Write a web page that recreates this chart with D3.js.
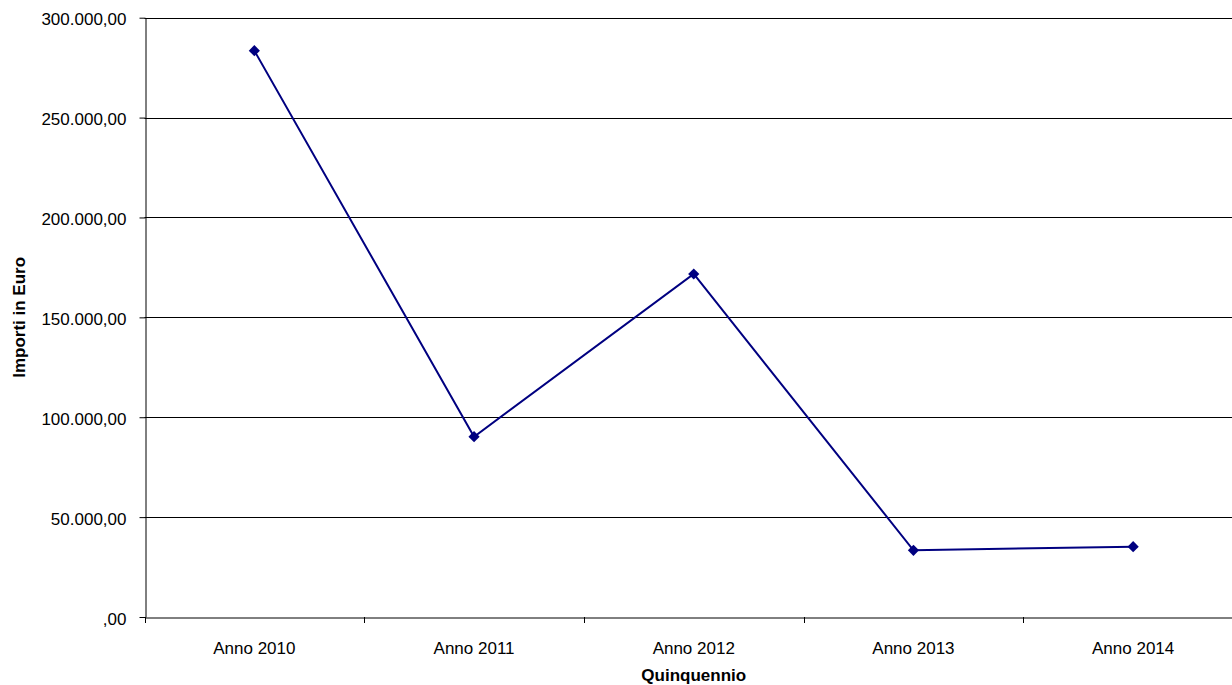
<!DOCTYPE html>
<html><head><meta charset="utf-8">
<script src="https://cdn.jsdelivr.net/npm/d3@7"></script>
<style>body{margin:0;background:#fff;}svg{display:block;font-family:"Liberation Sans",Arial,sans-serif;}</style>
</head><body>
<svg id="c" width="1232" height="685"></svg>
<script>
const categories = ["Anno 2010","Anno 2011","Anno 2012","Anno 2013","Anno 2014"];
const values = [283500, 90250, 171700, 33400, 35200];
const yTicks = [0, 50000, 100000, 150000, 200000, 250000, 300000];

const svg = d3.select("#c");
const L = 144.5, R = 1243, T = 17.7, B = 617;
const FS = 17;
const x = d3.scaleBand().domain(categories).range([L, R]);
const y = d3.scaleLinear().domain([0, 300000]).range([B, T]);

const itFmt = d3.formatLocale({decimal:",", thousands:".", grouping:[3], currency:["€",""]});
const f = itFmt.format(",.2f");
const fmt = v => v === 0 ? ",00" : f(v);

// gridlines
svg.append("g").selectAll("line").data(yTicks.filter(d=>d>0)).join("line")
  .attr("x1", L).attr("x2", R)
  .attr("y1", d=>Math.round(y(d))+0.5).attr("y2", d=>Math.round(y(d))+0.5)
  .attr("stroke", "#000").attr("stroke-width", 1);

// y axis
const ya = svg.append("g").attr("transform", `translate(${Math.round(L)+0.5},0)`)
  .call(d3.axisLeft(y).tickValues(yTicks).tickFormat(fmt).tickSize(6).tickSizeOuter(0));
ya.attr("font-size", null).attr("font-family", null);
ya.select(".domain").attr("stroke", "#000");
ya.selectAll(".tick line").attr("stroke", "#000");
ya.selectAll(".tick text").style("font-size", FS+"px").attr("fill", "#000").attr("x", -19).attr("dy", "0.42em");

// x axis
const xa = svg.append("g").attr("transform", `translate(0,${Math.round(B)+0.5})`)
  .call(d3.axisBottom(x).tickSize(0).tickSizeOuter(0));
xa.attr("font-size", null).attr("font-family", null);
xa.select(".domain").attr("stroke", "#000");
xa.selectAll(".tick text").style("font-size", FS+"px").attr("fill", "#000").attr("dy", "0").attr("y", 36);
// category boundary ticks
const bounds = categories.map(c => x(c));
svg.append("g").selectAll("line").data(bounds).join("line")
  .attr("x1", d=>Math.round(d)+0.5).attr("x2", d=>Math.round(d)+0.5)
  .attr("y1", B).attr("y2", B+6).attr("stroke", "#000");

// line
const cx = c => x(c) + x.bandwidth()/2;
svg.append("path").datum(values)
  .attr("d", d3.line().x((d,i)=>cx(categories[i])).y(d=>y(d)))
  .attr("fill", "none").attr("stroke", "#000080").attr("stroke-width", 2);

svg.append("g").selectAll("path").data(values).join("path")
  .attr("d", d3.symbol().type(d3.symbolDiamond2).size(80))
  .attr("transform", (d,i)=>`translate(${cx(categories[i])},${y(d)})`)
  .attr("fill", "#000080");

// titles
svg.append("text").attr("x", (L+R)/2).attr("y", 681).attr("text-anchor","middle")
  .style("font-size", FS+"px").attr("font-weight","bold").text("Quinquennio");
svg.append("text").attr("transform", `translate(25,${(T+B)/2}) rotate(-90)`).attr("text-anchor","middle")
  .style("font-size", FS+"px").attr("font-weight","bold").text("Importi in Euro");
</script>
</body></html>
